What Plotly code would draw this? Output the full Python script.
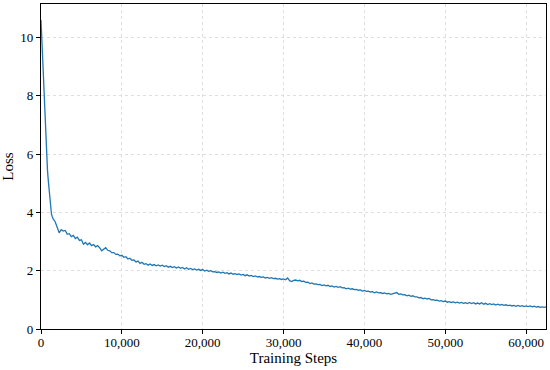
import plotly.graph_objects as go

# Early logging (every 100 steps)
steps_early = [0, 100, 200, 300, 400, 500, 600, 700, 800, 900, 1000, 1100, 1200, 1300, 1400]
loss_early = [10.6, 9.95, 9.15, 8.35, 7.6, 6.95, 6.35, 5.85, 5.45, 5.1, 4.75, 4.4, 4.08, 3.93, 3.85]

# Later logging (every 250 steps from 1500 to 62500)
steps_late = list(range(1500, 62501, 250))
loss_late = [
    3.78, 3.68, 3.50, 3.30, 3.41, 3.36, 3.38, 3.25, 3.27, 3.17,
    3.21, 3.10, 3.15, 3.04, 3.06, 2.91, 2.97, 2.89, 2.95, 2.86,
    2.90, 2.82, 2.86, 2.79, 2.68, 2.75, 2.79, 2.70, 2.68, 2.62,
    2.62, 2.56, 2.57, 2.51, 2.53, 2.46, 2.48, 2.40, 2.43, 2.36,
    2.37, 2.30, 2.33, 2.25, 2.29, 2.22, 2.24, 2.19, 2.23, 2.18,
    2.21, 2.17, 2.20, 2.16, 2.19, 2.14, 2.17, 2.12, 2.15, 2.11,
    2.14, 2.09, 2.13, 2.08, 2.11, 2.06, 2.10, 2.05, 2.08, 2.04,
    2.06, 2.02, 2.05, 2.01, 2.04, 1.99, 2.02, 1.98, 2.00, 1.96,
    1.97, 1.94, 1.96, 1.92, 1.95, 1.91, 1.93, 1.89, 1.92, 1.88,
    1.90, 1.87, 1.89, 1.85, 1.87, 1.83, 1.86, 1.82, 1.84, 1.80,
    1.82, 1.79, 1.80, 1.77, 1.79, 1.75, 1.77, 1.74, 1.76, 1.73,
    1.74, 1.71, 1.73, 1.70, 1.72, 1.69, 1.75, 1.66, 1.63, 1.67,
    1.68, 1.65, 1.67, 1.63, 1.64, 1.60, 1.61, 1.56, 1.58, 1.54,
    1.55, 1.52, 1.53, 1.49, 1.51, 1.48, 1.50, 1.46, 1.48, 1.44,
    1.46, 1.43, 1.45, 1.41, 1.42, 1.38, 1.40, 1.37, 1.38, 1.35,
    1.36, 1.33, 1.34, 1.30, 1.32, 1.29, 1.30, 1.27, 1.28, 1.24,
    1.27, 1.24, 1.25, 1.22, 1.24, 1.21, 1.22, 1.19, 1.21, 1.23,
    1.25, 1.19, 1.20, 1.17, 1.18, 1.14, 1.16, 1.12, 1.14, 1.10,
    1.10, 1.07, 1.08, 1.04, 1.06, 1.03, 1.05, 1.00, 1.01, 0.98,
    0.99, 0.96, 0.97, 0.94, 0.96, 0.92, 0.94, 0.91, 0.93, 0.90,
    0.92, 0.89, 0.91, 0.88, 0.90, 0.87, 0.91, 0.87, 0.90, 0.86,
    0.89, 0.86, 0.90, 0.85, 0.88, 0.84, 0.87, 0.84, 0.86, 0.82,
    0.85, 0.82, 0.84, 0.81, 0.83, 0.80, 0.82, 0.79, 0.81, 0.78,
    0.81, 0.78, 0.80, 0.77, 0.79, 0.77, 0.79, 0.76, 0.78, 0.75,
    0.77, 0.74, 0.76, 0.74, 0.76,
]
assert len(steps_late) == len(loss_late), (len(steps_late), len(loss_late))

steps = steps_early + steps_late
loss = loss_early + loss_late

x_ticks = [0, 10000, 20000, 30000, 40000, 50000, 60000]
y_ticks = [0, 2, 4, 6, 8, 10]

FONT = "Liberation Serif, Times New Roman, serif"

fig = go.Figure()
fig.add_trace(go.Scatter(
    x=steps, y=loss, mode="lines",
    line=dict(color="#1f77b4", width=1.3),
    showlegend=False,
))

axis_common = dict(
    showline=True, linecolor="black", linewidth=1.2, mirror=True,
    ticks="outside", ticklen=4, tickwidth=1, tickcolor="black",
    showgrid=True, gridcolor="#dedede", griddash="3px,3px", gridwidth=0.8,
    zeroline=False,
    tickfont=dict(family=FONT, size=13, color="black"),
    automargin=False,
)

fig.update_xaxes(
    range=[0, 62460], tickvals=x_ticks, tickformat=",d",
    ticklabelstandoff=-3,
    title=dict(text="Training Steps", font=dict(family=FONT, size=15, color="black"), standoff=2),
    **axis_common,
)
fig.update_yaxes(
    range=[0, 11.15], tickvals=y_ticks,
    title=dict(text="Loss", font=dict(family=FONT, size=15, color="black"), standoff=8),
    **axis_common,
)

fig.update_layout(
    width=550, height=370,
    margin=dict(l=41, r=4, t=4, b=41),
    plot_bgcolor="white", paper_bgcolor="white",
    font=dict(family=FONT, color="black"),
)

fig.write_html(
    "out.html",
    config={"displayModeBar": False},
    post_script="document.body.style.margin='0';",
)
